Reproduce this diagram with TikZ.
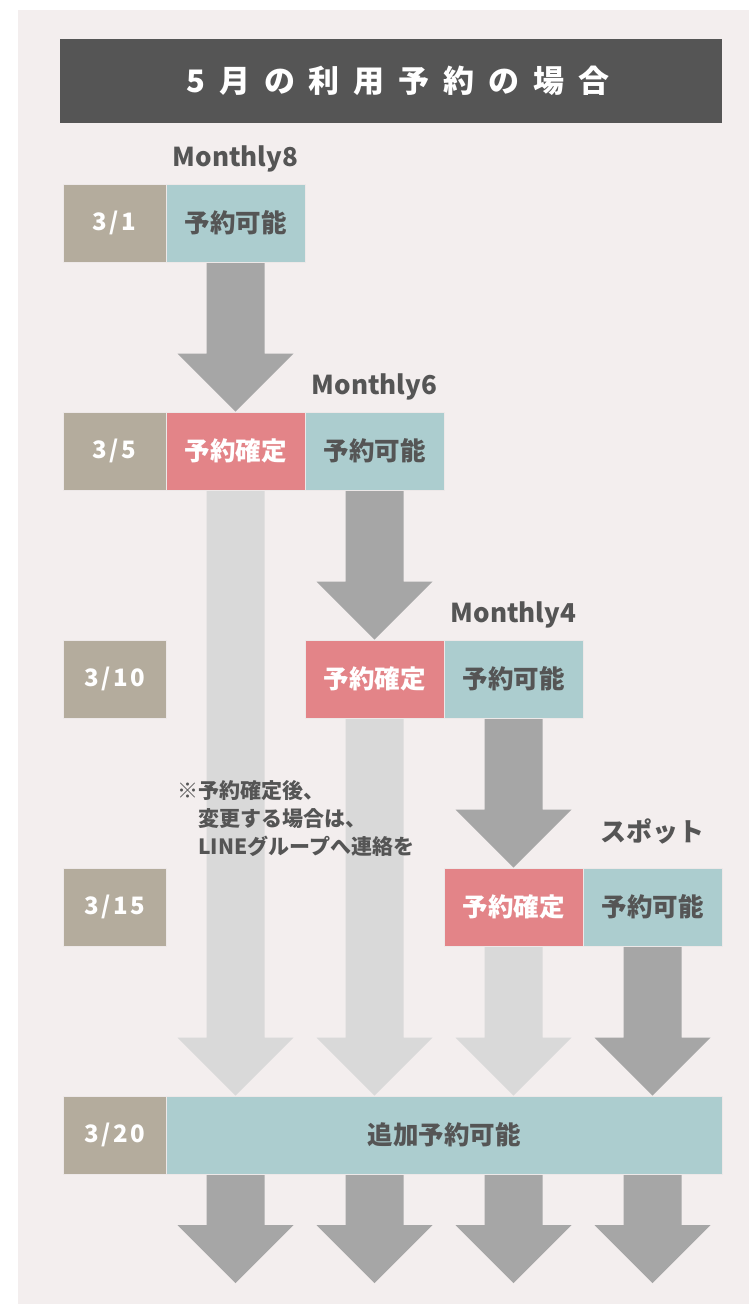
\documentclass[tikz,border=0pt]{standalone}
\usepackage{fontspec}
\setmainfont{Noto Sans CJK JP}
\usetikzlibrary{calc}
\definecolor{bgc}{HTML}{F3EEEE}
\definecolor{titlec}{HTML}{555555}
\definecolor{datec}{HTML}{B4AC9D}
\definecolor{tealc}{HTML}{ACCDCF}
\definecolor{redc}{HTML}{E38488}
\definecolor{darkc}{HTML}{A6A6A6}
\definecolor{lightc}{HTML}{D9D9D9}
\definecolor{txt}{HTML}{555555}
\definecolor{linec}{HTML}{EDE8E8}
\pgfdeclarelayer{background}
\pgfsetlayers{background,main}
\newcommand{\bigarr}[3]{\fill[#1] let \p1=(#2), \p2=(#3) in
  (\x1-29pt,\y1) -- (\x1+29pt,\y1) -- (\x1+29pt,\y2+58pt) -- (\x1+58pt,\y2+58pt)
  -- (\x1,\y2) -- (\x1-58pt,\y2+58pt) -- (\x1-29pt,\y2+58pt) -- cycle;}
\begin{document}
\begin{tikzpicture}[x=1pt,y=-1pt,
  cell/.style={minimum width=139pt,minimum height=78pt,inner sep=0pt,draw=linec,line width=0.6pt,
    font=\fontsize{25.5}{25.5}\selectfont\bfseries},
  datebox/.style={cell,minimum width=103pt,fill=datec,text=white,
    font=\fontsize{24}{24}\selectfont\bfseries\addfontfeature{LetterSpace=10}},
  open/.style={cell,fill=tealc,text=txt},
  fixed/.style={cell,fill=redc,text=white},
  plan/.style={font=\fontsize{26}{26}\selectfont\bfseries,text=txt,inner sep=0pt,anchor=base},
  note/.style={font=\fontsize{21}{21}\selectfont\bfseries,text=txt,inner sep=0pt,anchor=base west}
]
\useasboundingbox (0,0) rectangle (749,1304);
% title
\node[fill=titlec,minimum width=662pt,minimum height=84pt,inner sep=0pt,text=white,
  font=\fontsize{31}{31}\selectfont\bfseries\addfontfeature{LetterSpace=45}] (title) at (391,81) {\hspace{14pt}5月の利用予約の場合};
% rows
\node[datebox] (d1) at (114.5,223) {3/1};
\node[open] (t1) at (235.5,223) {予約可能};
\node[datebox] (d2) at (114.5,451) {3/5};
\node[fixed] (r2) at (235.5,451) {予約確定};
\node[open] (t2) at (374.5,451) {予約可能};
\node[datebox] (d3) at (114.5,679) {3/10};
\node[fixed] (r3) at (374.5,679) {予約確定};
\node[open] (t3) at (513.5,679) {予約可能};
\node[datebox] (d4) at (114.5,907) {3/15};
\node[fixed] (r4) at (513.5,907) {予約確定};
\node[open] (t4) at (652.5,907) {予約可能};
\node[datebox] (d5) at (114.5,1135) {3/20};
\node[open,minimum width=556pt] (add) at (444,1135) {追加予約可能};
% plan labels
\node[plan] (m8) at (235.5,166) {Monthly8};
\node[plan] (m6) at (374.5,394) {Monthly6};
\node[plan] (m4) at (513.5,622) {Monthly4};
\node[plan] (spot) at (652.5,841) {スポット};
% note
\node[note] (n1) at (177,798) {※予約確定後、};
\node[note] (n2) at (198,826) {変更する場合は、};
\node[note] (n3) at (198,854) {LINEグループへ連絡を};
% end points
\coordinate (e1) at (235.5,1283);
\coordinate (e2) at (374.5,1283);
\coordinate (e3) at (513.5,1283);
\coordinate (e4) at (652.5,1283);
\begin{pgfonlayer}{background}
\fill[white] (0,0) rectangle (749,1304);
\fill[bgc] (18,10) rectangle (749,1304);
\bigarr{darkc}{t1.south}{r2.north}
\bigarr{darkc}{t2.south}{r3.north}
\bigarr{darkc}{t3.south}{r4.north}
\bigarr{darkc}{t4.south}{t4.south |- add.north}
\bigarr{lightc}{r2.south}{r2.south |- add.north}
\bigarr{lightc}{r3.south}{r3.south |- add.north}
\bigarr{lightc}{r4.south}{r4.south |- add.north}
\bigarr{darkc}{r2.south |- add.south}{e1}
\bigarr{darkc}{r3.south |- add.south}{e2}
\bigarr{darkc}{r4.south |- add.south}{e3}
\bigarr{darkc}{t4.south |- add.south}{e4}
\end{pgfonlayer}
\end{tikzpicture}
\end{document}
